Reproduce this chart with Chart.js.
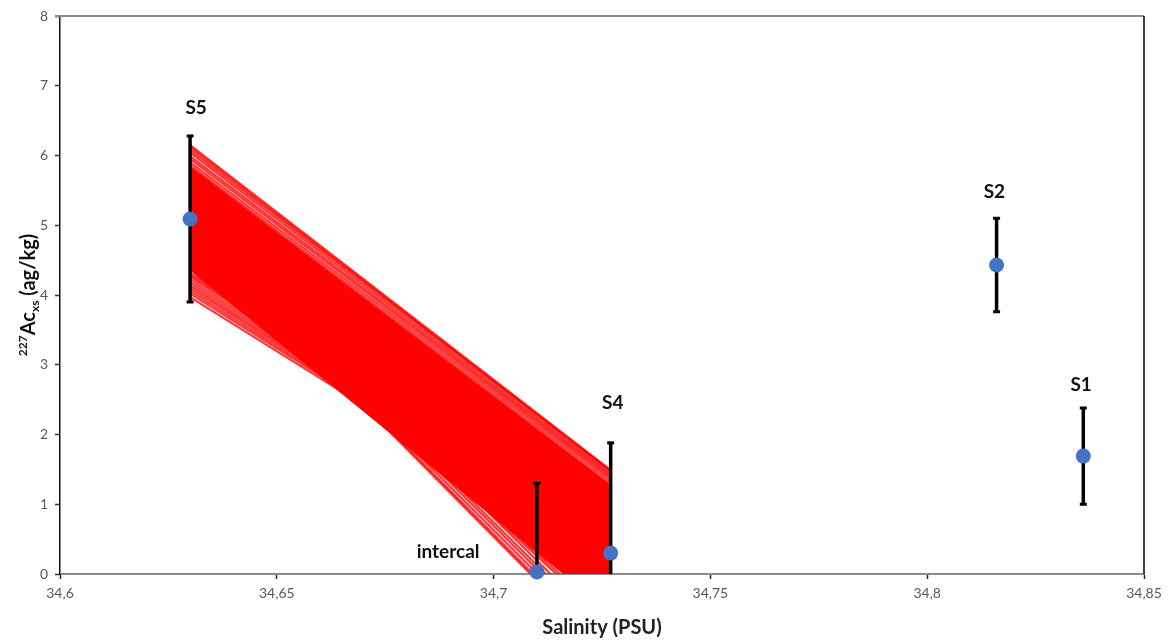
<!DOCTYPE html>
<html lang="en">
<head>
  <meta charset="UTF-8" />
  <title>227Ac vs salinity</title>
  <script src="https://cdn.jsdelivr.net/npm/chart.js"></script>
  <style>
    body { margin: 0; background: #fff; }
    #wrap { width: 1168px; height: 642px; }
  </style>
</head>
<body>
  <div id="wrap"><canvas id="chart" width="1168" height="642"></canvas></div>

  <script>
    // stations and measured values
    const stations = ['S5', 'intercal', 'S4', 'S2', 'S1'];
    const salinity = [34.630, 34.710, 34.727, 34.816, 34.836];
    const ac227 = [5.09, 0.03, 0.30, 4.43, 1.69];
    const ac227Err = [1.19, 1.27, 1.58, 0.67, 0.69];

    // where the station names sit (data units)
    const labelX = [34.6314, 34.6895, 34.7275, 34.8155, 34.8355];
    const labelY = [6.68, 0.32, 2.45, 5.48, 2.71];

    // regression fan: every line runs from S5 to S4 salinity
    const fanX = [34.630, 34.727];
    const coreStart = [5.84, 4.36];   // dense part of the fan, top and bottom
    const coreEnd = [1.28, -0.55];
    const fanStart = [6.15, 6.12, 6.08, 6.04, 5.99, 5.95, 5.90, 5.86,
                      4.32, 4.29, 4.26, 4.22, 4.18, 4.14, 4.10, 4.06, 4.02, 3.97,
                      4.93, 4.95, 4.98, 5.02, 5.05, 5.10, 4.85, 4.80];
    const fanEnd   = [1.49, 1.47, 1.48, 1.44, 1.41, 1.38, 1.35, 1.31,
                      0.42, 0.36, 0.33, 0.30, 0.27, 0.26, 0.25, 0.23, 0.22, 0.21,
                     -1.16, -1.12, -1.05, -0.98, -0.92, -0.85, -0.72, -0.66];

    const RED = 'rgb(255,0,0)';
    const BLUE = '#4472C4';

    const datasets = [];

    // data points on top
    datasets.push({
      data: salinity.map((x, i) => ({ x: x, y: ac227[i] })),
      pointRadius: 7.5,
      pointBackgroundColor: BLUE,
      pointBorderColor: BLUE,
      pointBorderWidth: 0,
      showLine: false,
      clip: false
    });

    // vertical error bars
    salinity.forEach((x, i) => {
      datasets.push({
        data: [{ x: x, y: ac227[i] - ac227Err[i] }, { x: x, y: ac227[i] + ac227Err[i] }],
        showLine: true,
        borderColor: '#000',
        borderWidth: 3.5,
        pointStyle: 'line',
        pointRadius: 3.5,
        pointBorderColor: '#000',
        pointBorderWidth: 3
      });
    });

    // single fan lines
    fanStart.forEach((y0, i) => {
      datasets.push({
        data: [{ x: fanX[0], y: y0 }, { x: fanX[1], y: fanEnd[i] }],
        showLine: true,
        borderColor: 'rgba(255,0,0,0.8)',
        borderWidth: 2.2,
        pointRadius: 0
      });
    });

    // solid core of the fan, filled between its two edges
    datasets.push({
      data: [{ x: fanX[0], y: coreStart[0] }, { x: fanX[1], y: coreEnd[0] }],
      showLine: true,
      borderColor: RED,
      borderWidth: 1,
      backgroundColor: RED,
      pointRadius: 0,
      fill: '+1'
    });
    datasets.push({
      data: [{ x: fanX[0], y: coreStart[1] }, { x: fanX[1], y: coreEnd[1] }],
      showLine: true,
      borderColor: RED,
      borderWidth: 1,
      pointRadius: 0
    });

    // station names, y title and the top/right frame
    const extras = {
      id: 'extras',
      afterDatasetsDraw(chart) {
        const { ctx, chartArea, scales } = chart;
        ctx.save();

        ctx.strokeStyle = '#8c8c8c';
        ctx.lineWidth = 2;
        ctx.beginPath();
        ctx.moveTo(chartArea.left - 5, chartArea.top);
        ctx.lineTo(chartArea.right, chartArea.top);
        ctx.stroke();
        ctx.strokeStyle = '#000';
        ctx.lineWidth = 1.5;
        ctx.beginPath();
        ctx.moveTo(chartArea.right, chartArea.top);
        ctx.lineTo(chartArea.right, chartArea.bottom);
        ctx.stroke();

        ctx.fillStyle = '#111';
        ctx.font = 'bold 19px Lato';
        ctx.textAlign = 'center';
        ctx.textBaseline = 'middle';
        stations.forEach((s, i) => {
          ctx.fillText(s, scales.x.getPixelForValue(labelX[i]), scales.y.getPixelForValue(labelY[i]));
        });

        // 227Ac(xs) (ag/kg), rotated
        const parts = [
          { t: '227', f: 'bold 12px Lato', dy: -8 },
          { t: 'Ac', f: 'bold 20px Lato', dy: 0 },
          { t: 'xs', f: 'bold 12px Lato', dy: 4 },
          { t: ' (ag/kg)', f: 'bold 20px Lato', dy: 0 }
        ];
        let total = 0;
        parts.forEach(p => { ctx.font = p.f; p.w = ctx.measureText(p.t).width; total += p.w; });
        ctx.translate(28, (chartArea.top + chartArea.bottom) / 2);
        ctx.rotate(-Math.PI / 2);
        ctx.textAlign = 'left';
        ctx.textBaseline = 'alphabetic';
        let px = -total / 2;
        parts.forEach(p => {
          ctx.font = p.f;
          ctx.fillText(p.t, px, 7 + p.dy);
          px += p.w;
        });
        ctx.restore();
      }
    };

    new Chart(document.getElementById('chart'), {
      type: 'scatter',
      data: { datasets: datasets },
      options: {
        responsive: false,
        animation: false,
        layout: { padding: { top: 16, right: 24, left: 0, bottom: 0 } },
        plugins: { legend: { display: false }, tooltip: { enabled: false } },
        scales: {
          x: {
            type: 'linear',
            min: 34.6,
            max: 34.85,
            afterFit: s => { s.height = 68; },
            ticks: {
              stepSize: 0.05,
              color: '#595959',
              font: { family: 'Lato', size: 14 },
              padding: 6,
              maxRotation: 0,
              callback: v => String(Math.round(v * 100) / 100).replace('.', ',')
            },
            grid: { drawOnChartArea: false, tickLength: 5, tickColor: '#222', tickWidth: 1.5 },
            border: { color: '#8c8c8c', width: 2 },
            title: {
              display: true,
              text: 'Salinity (PSU)',
              color: '#222',
              font: { family: 'Lato', size: 20, weight: 'bold' },
              padding: { top: 0, bottom: 2 }
            }
          },
          y: {
            min: 0,
            max: 8,
            afterFit: s => { s.width = 60; },
            ticks: {
              stepSize: 1,
              color: '#595959',
              font: { family: 'Lato', size: 14 },
              padding: 7
            },
            grid: { drawOnChartArea: false, tickLength: 5, tickColor: '#333', tickWidth: 1.5 },
            border: { color: '#111', width: 1.5 }
          }
        }
      },
      plugins: [extras]
    });
  </script>
</body>
</html>
